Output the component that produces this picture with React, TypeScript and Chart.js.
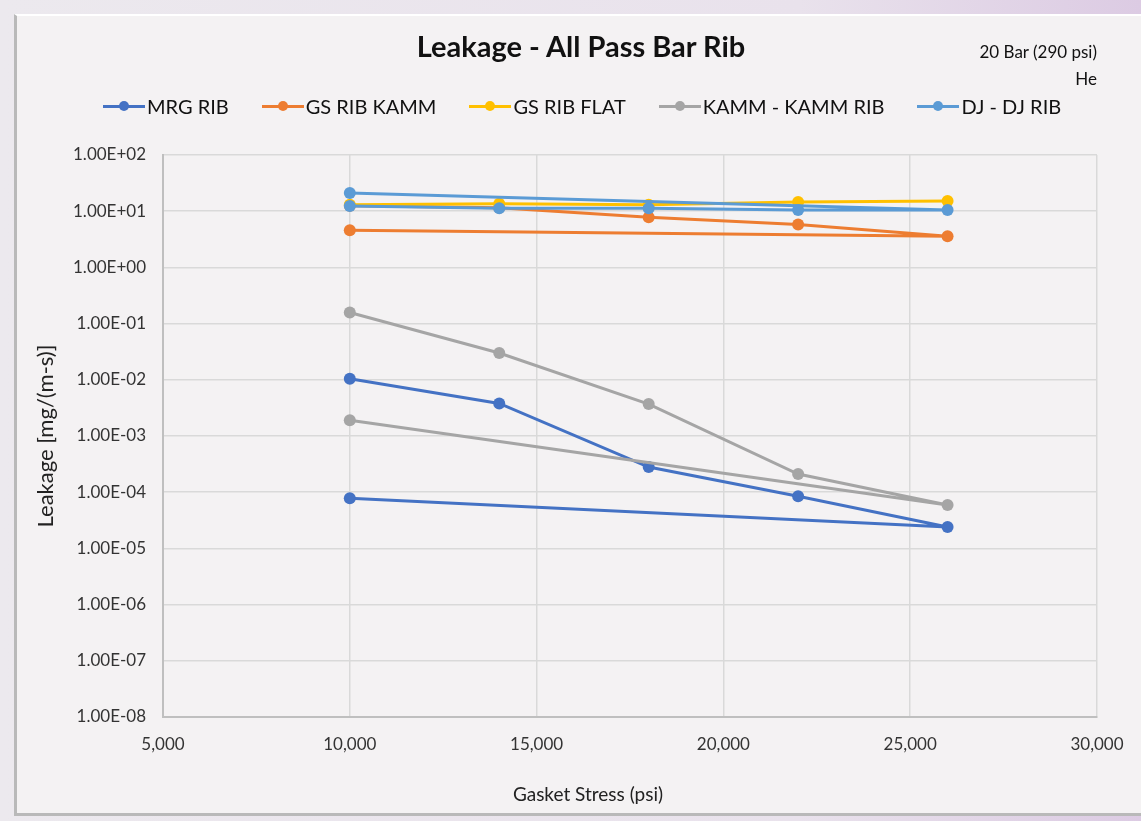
import React, { useEffect, useRef } from "react";
import { Chart, registerables } from "chart.js";

Chart.register(...registerables);

// ---- data ----
const chartTitle = "Leakage - All Pass Bar Rib";
const subTitle1 = "20 Bar (290 psi)";
const subTitle2 = "He";
const xAxisTitle = "Gasket Stress (psi)";
const yAxisTitle = "Leakage [mg/(m-s)]";

const seriesNames = ["MRG RIB", "GS RIB KAMM", "GS RIB FLAT", "KAMM - KAMM RIB", "DJ - DJ RIB"];
const seriesColors = ["#4472C4", "#ED7D31", "#FFC000", "#A5A5A5", "#5B9BD5"];

const stressLoop = [10000, 14000, 18000, 22000, 26000, 10000];
const stressFlat = [10000, 14000, 18000, 22000, 26000];

const mrgRib = [1.04e-2, 3.8e-3, 2.8e-4, 8.5e-5, 2.4e-5, 7.8e-5];
const gsRibKamm = [12.5, 11.5, 7.8, 5.8, 3.6, 4.6];
const gsRibFlat = [13.0, 13.6, 13.0, 14.6, 15.2];
const kammKammRib = [0.158, 3.0e-2, 3.7e-3, 2.1e-4, 5.9e-5, 1.9e-3];
const djDjRib = [12.4, 11.3, 11.3, 10.5, 10.5, 21];

const xTicks = [5000, 10000, 15000, 20000, 25000, 30000];
const yTicks = [1e2, 1e1, 1e0, 1e-1, 1e-2, 1e-3, 1e-4, 1e-5, 1e-6, 1e-7, 1e-8];

const FONT = "Lato, 'Open Sans', sans-serif";

function fmtExp(v: number): string {
  const e = Math.round(Math.log10(v));
  const m = v / Math.pow(10, e);
  const sign = e < 0 ? "-" : "+";
  const abs = Math.abs(e);
  return m.toFixed(2) + "E" + sign + (abs < 10 ? "0" + abs : String(abs));
}

function pts(xs: number[], ys: number[]) {
  return ys.map((y, i) => ({ x: xs[i], y }));
}

export default function App() {
  const ref = useRef<HTMLCanvasElement | null>(null);

  useEffect(() => {
    if (!ref.current) return;
    const allData = [
      pts(stressLoop, mrgRib),
      pts(stressLoop, gsRibKamm),
      pts(stressFlat, gsRibFlat),
      pts(stressLoop, kammKammRib),
      pts(stressLoop, djDjRib),
    ];
    const chart = new Chart(ref.current, {
      type: "scatter",
      data: {
        datasets: allData.map((d, i) => ({
          label: seriesNames[i],
          data: d,
          showLine: true,
          borderColor: seriesColors[i],
          backgroundColor: seriesColors[i],
          borderWidth: 3,
          pointRadius: 6,
          pointBorderWidth: 0,
          pointHoverRadius: 6,
          order: seriesNames.length - i,
          tension: 0,
        })),
      },
      options: {
        responsive: false,
        animation: false,
        layout: { padding: { left: 0, right: 44, top: 155, bottom: 0 } },
        plugins: {
          legend: { display: false },
          title: { display: false },
          tooltip: { enabled: false },
        },
        scales: {
          x: {
            type: "linear",
            min: 5000,
            max: 30000,
            afterFit: (s: any) => {
              s.height = 104;
            },
            afterBuildTicks: (s: any) => {
              s.ticks = xTicks.map((v) => ({ value: v }));
            },
            ticks: {
              padding: 17,
              color: "#333333",
              font: { family: FONT, size: 17 },
              callback: (v: any) => Number(v).toLocaleString("en-US"),
            },
            grid: { color: "#D9D9D9", lineWidth: 1.5, drawTicks: false },
            border: { color: "#BFBFBF", width: 2 },
            title: { display: false },
          },
          y: {
            type: "logarithmic",
            min: 1e-8,
            max: 1e2,
            afterFit: (s: any) => {
              s.width = 163;
            },
            afterBuildTicks: (s: any) => {
              s.ticks = yTicks.slice().reverse().map((v) => ({ value: v }));
            },
            ticks: {
              padding: 17,
              color: "#333333",
              font: { family: FONT, size: 17 },
              callback: (v: any) => fmtExp(Number(v)),
            },
            grid: { color: "#D9D9D9", lineWidth: 1.5, drawTicks: false },
            border: { color: "#BFBFBF", width: 2 },
            title: {
              display: true,
              text: yAxisTitle,
              color: "#222222",
              font: { family: FONT, size: 22 },
              padding: { top: 33, bottom: 0 },
            },
          },
        },
      },
    });
    return () => chart.destroy();
  }, []);

  const legendStyle: React.CSSProperties = {
    position: "absolute",
    top: 94,
    left: 103,
    display: "flex",
    alignItems: "center",
    gap: 33,
    fontFamily: FONT,
    fontSize: 20,
    color: "#111",
    whiteSpace: "nowrap",
  };

  return (
    <div
      style={{
        position: "fixed",
        left: 0,
        top: 0,
        width: 1141,
        height: 821,
        background: "linear-gradient(90deg, #ECE9EE 0%, #E9E2EC 70%, #DCCBE3 100%)",
        overflow: "hidden",
      }}
    >
      <div
        style={{
          position: "absolute",
          left: 14,
          top: 14,
          width: 1127,
          height: 802,
          background: "#F4F2F3",
          borderLeft: "3px solid #B9B9B9",
          borderBottom: "3px solid #B9B9B9",
          borderTop: "2px solid #FFFFFF",
          boxSizing: "border-box",
        }}
      />
      <canvas
        ref={ref}
        width={1141}
        height={821}
        style={{ position: "absolute", left: 0, top: 0, width: 1141, height: 821 }}
      />
      <div
        style={{
          position: "absolute",
          left: 581,
          top: 28,
          transform: "translateX(-50%)",
          fontFamily: FONT,
          fontWeight: 700,
          fontSize: 29,
          color: "#111",
          whiteSpace: "nowrap",
        }}
      >
        {chartTitle}
      </div>
      <div
        style={{
          position: "absolute",
          right: 1141 - 1097,
          top: 38,
          textAlign: "right",
          fontFamily: FONT,
          fontSize: 17,
          lineHeight: "27px",
          color: "#111",
          whiteSpace: "nowrap",
        }}
      >
        <div>{subTitle1}</div>
        <div>{subTitle2}</div>
      </div>
      <div
        style={{
          position: "absolute",
          left: 588,
          top: 782,
          transform: "translateX(-50%)",
          fontFamily: FONT,
          fontSize: 19,
          color: "#222",
          whiteSpace: "nowrap",
        }}
      >
        {xAxisTitle}
      </div>
      <div style={legendStyle}>
        {seriesNames.map((n, i) => (
          <div key={n} style={{ display: "flex", alignItems: "center" }}>
            <div style={{ position: "relative", width: 42, height: 24, marginRight: 2 }}>
              <div
                style={{
                  position: "absolute",
                  left: 0,
                  top: 10.5,
                  width: 42,
                  height: 3,
                  background: seriesColors[i],
                }}
              />
              <div
                style={{
                  position: "absolute",
                  left: 16,
                  top: 7,
                  width: 10,
                  height: 10,
                  borderRadius: "50%",
                  background: seriesColors[i],
                }}
              />
            </div>
            <span>{n}</span>
          </div>
        ))}
      </div>
    </div>
  );
}
